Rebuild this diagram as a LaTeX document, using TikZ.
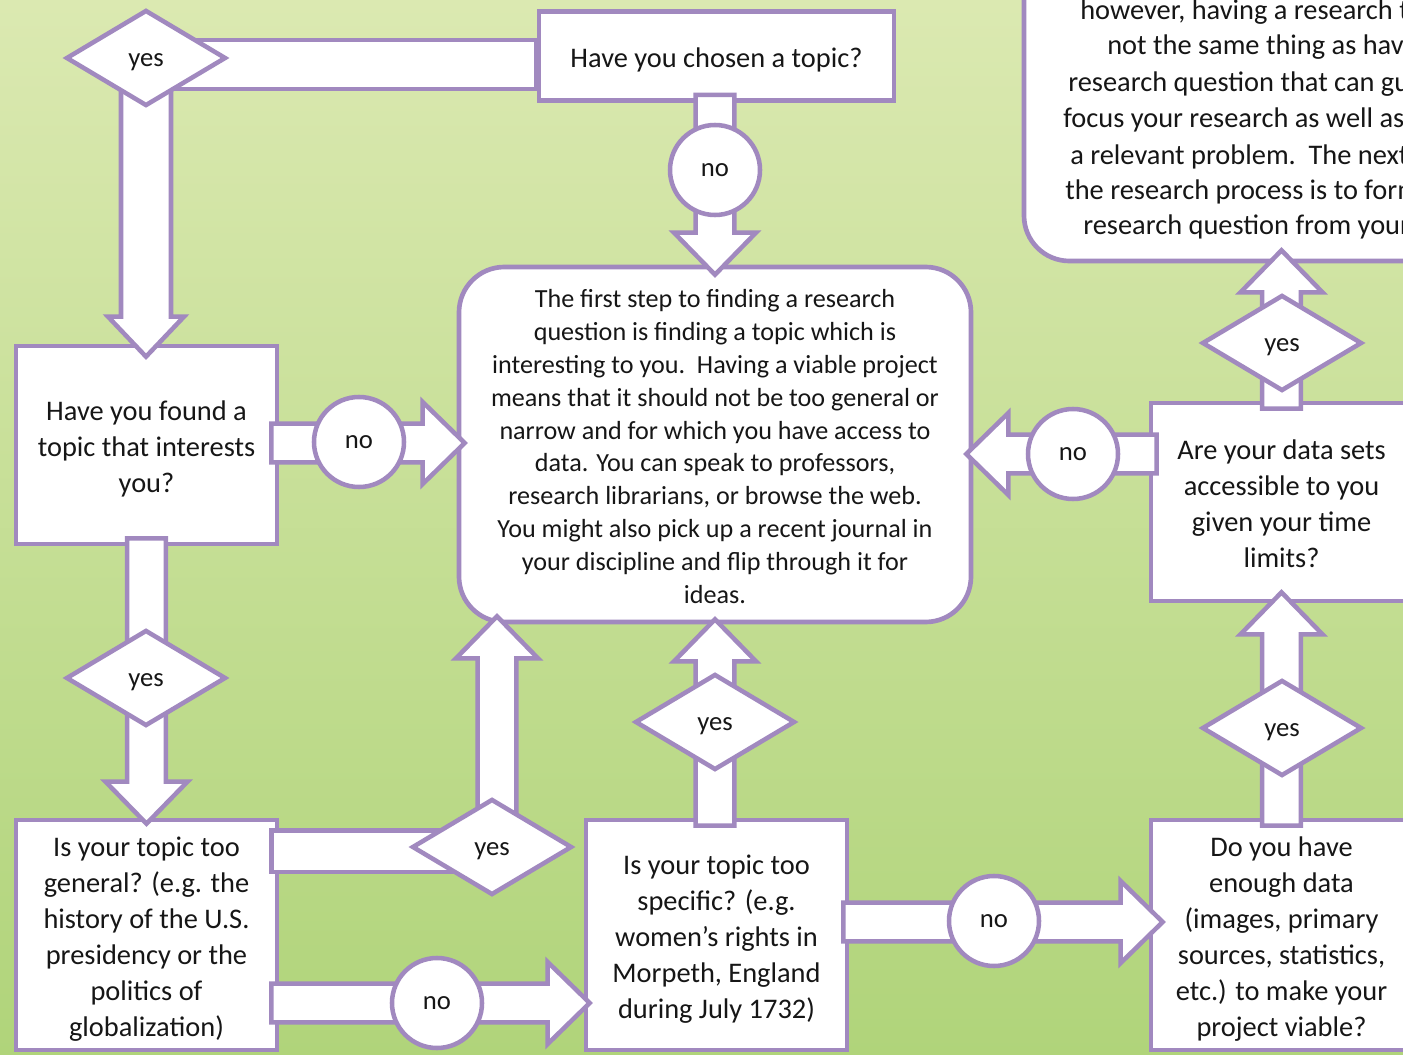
\documentclass[tikz,border=0pt]{standalone}
\usepackage{fontspec}
\setmainfont{Carlito}
\usetikzlibrary{shapes.geometric,calc}
\definecolor{pur}{HTML}{A189BF}
\definecolor{bgtop}{HTML}{DBE9B1}
\definecolor{bgbot}{HTML}{B0D47A}
\definecolor{txt}{HTML}{161616}
% struts that fix first-line height and last-line depth
\newcommand\strA{\rule[-5pt]{0pt}{27pt}}
\newcommand\strC{\rule[-4.1pt]{0pt}{24.6pt}}
% vertical fat arrow: start, tip, half shaft, half head, signed head length (+ = pointing down)
\newcommand\fatV[5]{\draw[fat] let \p1=#1, \p2=#2 in
  ({\x1-#3},\y1) -- ({\x1-#3},{\y2+#5}) -- ({\x1-#4},{\y2+#5}) -- (\x1,\y2) --
  ({\x1+#4},{\y2+#5}) -- ({\x1+#3},{\y2+#5}) -- ({\x1+#3},\y1) -- cycle;}
% horizontal fat arrow: start, tip, half shaft, half head, signed head length (+ = pointing right)
\newcommand\fatH[5]{\draw[fat] let \p1=#1, \p2=#2 in
  (\x1,{\y1-#3}) -- ({\x2-#5},{\y1-#3}) -- ({\x2-#5},{\y1-#4}) -- (\x2,\y1) --
  ({\x2-#5},{\y1+#4}) -- ({\x2-#5},{\y1+#3}) -- (\x1,{\y1+#3}) -- cycle;}
\def\sS{14.6pt}
\def\hH{30.75pt}
\def\hL{31.5pt}
\begin{document}
\begin{tikzpicture}[x=0.75pt,y=-0.75pt,
  box/.style={draw=pur, fill=white, line width=3.5pt, rectangle, inner sep=0pt,
    align=center, text=txt, font=\fontsize{21.3pt}{27pt}\selectfont},
  rbox/.style={box, rounded corners=34pt},
  dia/.style={draw=pur, fill=white, line width=3.4pt, diamond, inner sep=0pt, text depth=0pt, text height=12.3pt,
    minimum width=120pt, minimum height=72pt, text=txt, font=\fontsize{20pt}{24pt}\selectfont},
  circ/.style={draw=pur, fill=white, line width=3.4pt, circle, inner sep=0pt, text depth=0pt, text height=10.3pt,
    minimum size=67.5pt, text=txt, font=\fontsize{20pt}{24pt}\selectfont},
  fat/.style={draw=pur, fill=white, line width=3.4pt, line join=miter},
  trline/.style={anchor=base west, inner sep=0pt, text=txt, font=\fontsize{21.3pt}{27pt}\selectfont}
]
\useasboundingbox (0,0) rectangle (1403,1055);
\clip (0,0) rectangle (1403,1055);
\fill[top color=bgtop, bottom color=bgbot] (0,0) rectangle (1403,1055);

% boxes
\node[box, minimum width=266.25pt, minimum height=66.75pt] (B1) at (716.5,56) {\strA Have you chosen a topic?\strA};
\node[box, minimum width=195.75pt, minimum height=148.5pt] (B2) at (146.5,445) {\strA Have you found a\\topic that interests\\you?\strA};
\node[rbox, minimum width=384pt, minimum height=266.25pt, font=\fontsize{19.6pt}{24.6pt}\selectfont] (C) at (715,444.5)
  {\strC The first step to finding a research\\question is finding a topic which is\\interesting to you.\ \ Having a viable project\\means that it should not be too general or\\narrow and for which you have access to\\data. You can speak to professors,\\research librarians, or browse the web.\\You might also pick up a recent journal in\\your discipline and flip through it for\\ideas.\strC};
\node[box, minimum width=195.75pt, minimum height=172.5pt] (B3) at (146.5,935) {\strA Is your topic too\\general? (e.g. the\\history of the U.S.\\presidency or the\\politics of\\globalization)\strA};
\node[box, minimum width=195.75pt, minimum height=172.5pt] (B4) at (716.5,935) {\strA Is your topic too\\specific? (e.g.\\women's rights in\\Morpeth, England\\during July 1732)\strA};
\node[box, minimum width=195.75pt, minimum height=172.5pt] (B5) at (1281.5,935) {\strA Do you have\\enough data\\(images, primary\\sources, statistics,\\etc.) to make your\\project viable?\strA};
\node[box, minimum width=195.75pt, minimum height=148.5pt] (B6) at (1281.5,502) {\strA Are your data sets\\accessible to you\\given your time\\limits?\strA};
\node[rbox, minimum width=387pt, minimum height=270.75pt] (TR) at (1282,80.5) {};
\node[trline] (T1) at (1080,20) {however, having a research topic};
\node[trline] (T2) at (1107,55) {not the same thing as having};
\node[trline] (T3) at (1068,92) {research question that can guide};
\node[trline] (T4) at (1063,128) {focus your research as well as};
\node[trline] (T5) at (1070,165) {a relevant problem.\ \ The next};
\node[trline] (T6) at (1065,200) {the research process is to form};
\node[trline] (T7) at (1083,235) {research question from your};

% connectors
\draw[fat] ($(B1.west)+(0,-16)$) rectangle ($(146,58)+(0,31)$);
\fatV{(146,58)}{($(B2.north)+(0,13)$)}{18.75pt}{28.5pt}{30pt}
\fatV{($(B1.south)+(-1.5,-8)$)}{($(C.north)+(0,10)$)}{\sS}{\hH}{\hL}
\fatH{($(B2.east)+(-8,-2)$)}{($(C.west)+(8,0)$)}{\sS}{\hH}{\hL}
\fatV{($(B2.south)+(0,-8)$)}{($(B3.north)+(0,6)$)}{\sS}{\hH}{\hL}
\draw[fat] ($(B3.north east)+(-8,13)$) rectangle (492,872);
\fatV{(497,848)}{($(C.south)+(0,-8)$)}{\sS}{\hH}{-\hL}
\fatH{($(B3.east)+(-8,68)$)}{($(B4.west)+(6,0)$)}{\sS}{\hH}{\hL}
\fatV{($(B4.north)+(-1.5,8)$)}{($(C.south)+(0,-5)$)}{\sS}{\hH}{-\hL}
\fatH{($(B4.east)+(-6,-13)$)}{($(B5.west)+(14,0)$)}{\sS}{\hH}{\hL}
\fatV{($(B5.north)+(0,8)$)}{($(B6.south)+(0,-11)$)}{\sS}{\hH}{-\hL}
\fatH{($(B6.west)+(8,-48)$)}{($(C.east)+(-7,0)$)}{\sS}{\hH}{-\hL}
\fatV{($(B6.north)+(0,8)$)}{($(TR.south)+(0,-13)$)}{\sS}{\hH}{-\hL}

% decisions
\node[dia] (D1) at (146,58) {yes};
\node[dia] (D2) at (146,678) {yes};
\node[dia] (D3) at (492,847) {yes};
\node[dia] (D4) at (715,722) {yes};
\node[dia] (D5) at (1282,728) {yes};
\node[dia] (D6) at (1282,343) {yes};
\node[circ] (N1) at (715,170) {no};
\node[circ] (N2) at (359,442) {no};
\node[circ] (N3) at (437,1003) {no};
\node[circ] (N4) at (994,921) {no};
\node[circ] (N5) at (1073,454) {no};
\end{tikzpicture}
\end{document}
